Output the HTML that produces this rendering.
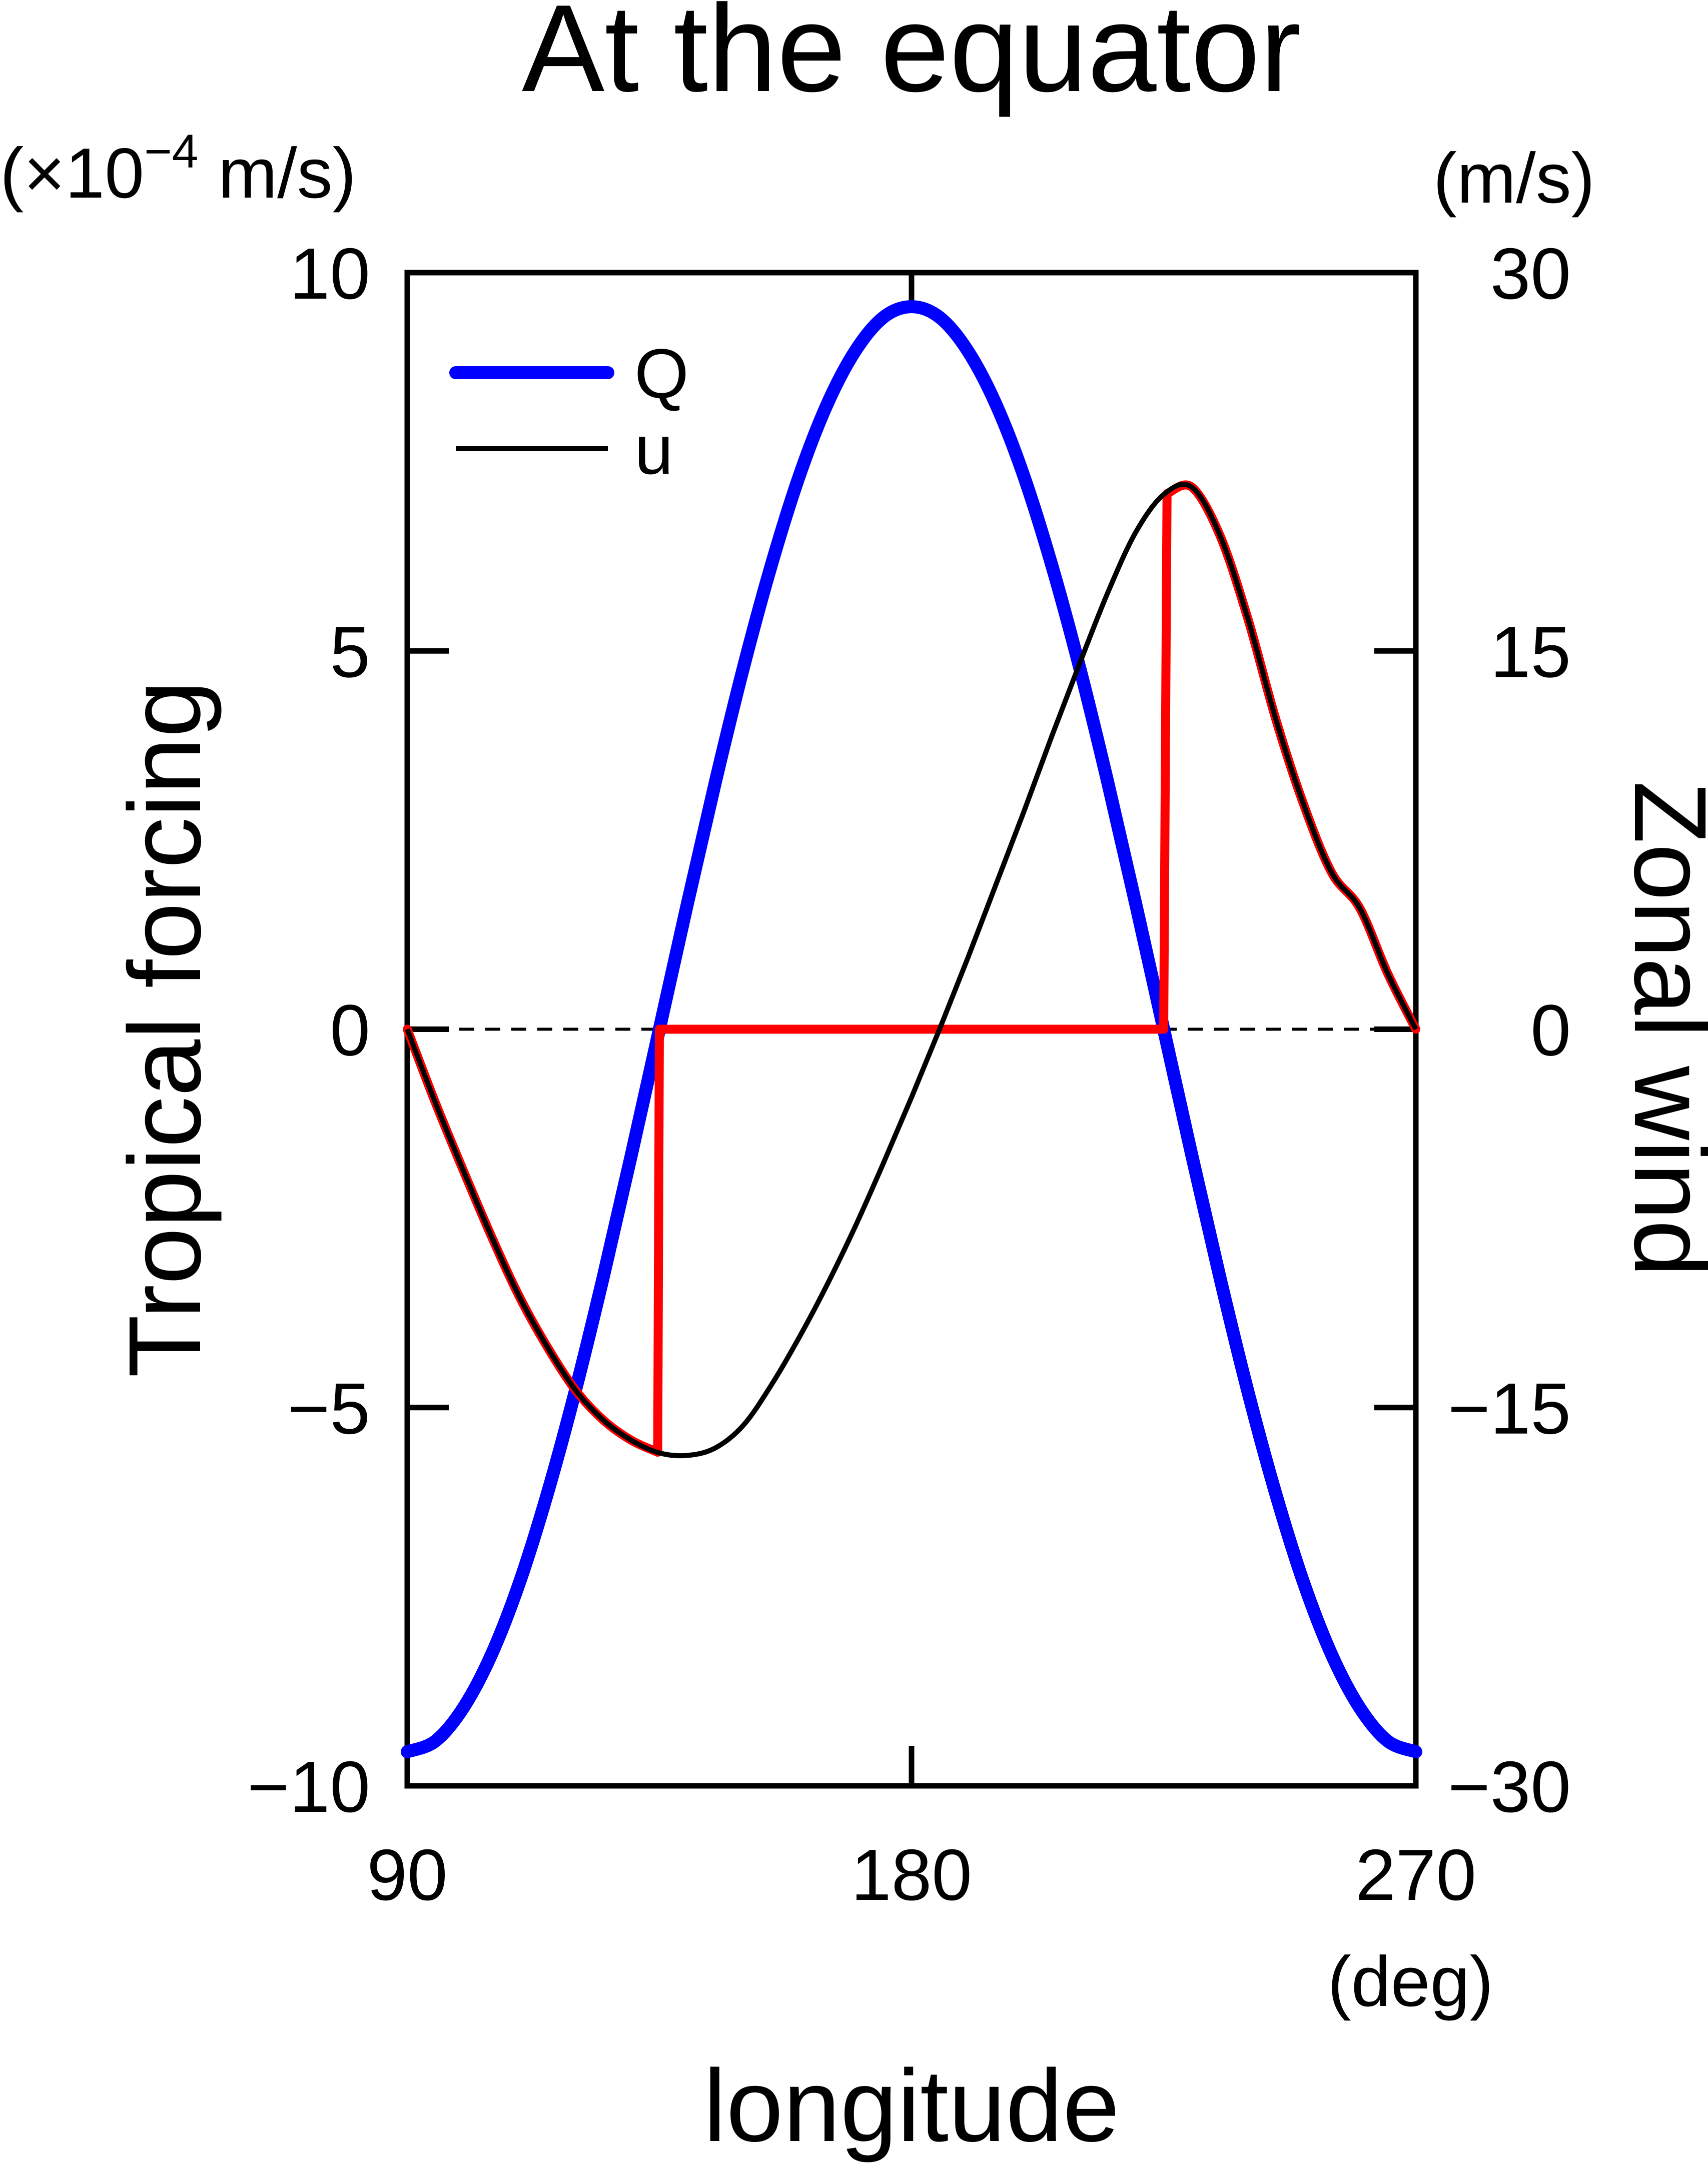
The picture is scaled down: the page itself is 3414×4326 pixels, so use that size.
<!DOCTYPE html>
<html><head><meta charset="utf-8">
<style>
html,body{margin:0;padding:0;background:#fff;}
svg{display:block;font-family:"Liberation Sans",Arial,sans-serif;}
</style></head>
<body>
<svg id="chart" width="3414" height="4326" viewBox="0 0 3414 4326" xmlns="http://www.w3.org/2000/svg">
<rect x="0" y="0" width="3414" height="4326" fill="#fff"/>
<text x="1822" y="182" font-size="248" text-anchor="middle" fill="#000">At the equator</text>
<text x="0" y="395" font-size="142" fill="#000">(×10<tspan font-size="95" dy="-60">−4</tspan><tspan dy="60"> m/s)</tspan></text>
<text x="3188" y="405" font-size="142" text-anchor="end" fill="#000">(m/s)</text>
<text x="2985" y="4010" font-size="142" text-anchor="end" fill="#000">(deg)</text>
<text transform="translate(400,2057) rotate(-90)" font-size="205" text-anchor="middle" fill="#000">Tropical forcing</text>
<text transform="translate(3268,2057) rotate(90)" font-size="205" text-anchor="middle" fill="#000">Zonal wind</text>
<text x="1822" y="4280" font-size="205" text-anchor="middle" fill="#000">longitude</text>
<g id="axes"></g>
<g id="series"></g>
<g>
<line x1="911" y1="745" x2="1215" y2="745" stroke="#0000ff" stroke-width="26" stroke-linecap="round"/>
<text x="1268" y="795" font-size="140" fill="#000">Q</text>
<line x1="911" y1="897" x2="1215" y2="897" stroke="#000" stroke-width="10"/>
<text x="1268" y="947" font-size="140" fill="#000">u</text>
</g>
</svg>
<script>
const lonQ = [90,95,100,105,110,115,120,125,130,135,140,145,150,155,160,165,170,175,180,185,190,195,200,205,210,215,220,225,230,235,240,245,250,255,260,265,270];
const qValues = [-9.55,-9.41,-8.97,-8.27,-7.32,-6.14,-4.78,-3.27,-1.66,0,1.66,3.27,4.78,6.14,7.32,8.27,8.97,9.41,9.55,9.41,8.97,8.27,7.32,6.14,4.78,3.27,1.66,0,-1.66,-3.27,-4.78,-6.14,-7.32,-8.27,-8.97,-9.41,-9.55];
const lonU = [90,95,100,105,110,115,120,125,130,135,140,145,150,155,160,165,170,175,180,185,190,195,200,205,210,215,220,225,230,235,240,245,250,255,260,265,270];
const uValues = [0,-2.9,-5.6,-8.2,-10.6,-12.6,-14.3,-15.5,-16.3,-16.8,-16.9,-16.6,-15.7,-14.1,-12.2,-10.1,-7.8,-5.3,-2.7,0,2.8,5.7,8.6,11.6,14.5,17.3,19.7,21.2,21.5,19.6,16.3,12.3,8.9,6.2,4.8,2.2,0];
const leftTicks = [10,5,0,-5,-10];
const leftTickLabels = ["10","5","0","−5","−10"];
const rightTicks = [30,15,0,-15,-30];
const rightTickLabels = ["30","15","0","−15","−30"];
const xTicks = [90,180,270];
const xTickLabels = ["90","180","270"];

const NS="http://www.w3.org/2000/svg";
const PL=814, PR=2830, PT=545, PB=3570;
const X=l=>PL+(l-90)/180*(PR-PL);
const YL=v=>PT+(10-v)/20*(PB-PT);
const YR=v=>PT+(30-v)/60*(PB-PT);
function mk(tag,attrs,parent){const e=document.createElementNS(NS,tag);for(const k in attrs)e.setAttribute(k,attrs[k]);parent.appendChild(e);return e;}
function smooth(pts){let d="M"+pts[0][0]+","+pts[0][1];
 for(let i=0;i<pts.length-1;i++){const p0=pts[Math.max(0,i-1)],p1=pts[i],p2=pts[i+1],p3=pts[Math.min(pts.length-1,i+2)];
 d+=" C"+(p1[0]+(p2[0]-p0[0])/6)+","+(p1[1]+(p2[1]-p0[1])/6)+" "+(p2[0]-(p3[0]-p1[0])/6)+","+(p2[1]-(p3[1]-p1[1])/6)+" "+p2[0]+","+p2[1];}
 return d;}
function interp(xs,ys,x){for(let i=0;i<xs.length-1;i++){if(x>=xs[i]&&x<=xs[i+1]){const t=(x-xs[i])/(xs[i+1]-xs[i]);return ys[i]+t*(ys[i+1]-ys[i]);}}return ys[ys.length-1];}

const axes=document.getElementById('axes');
const series=document.getElementById('series');
let z=mk('line',{x1:PL,y1:YL(0),x2:PR,y2:YL(0),stroke:'#000','stroke-width':6,'stroke-dasharray':'30 22'},axes);


leftTicks.forEach((v,i)=>{
 const t=mk('line',{x1:PL,y1:YL(v),x2:PL+83,y2:YL(v),stroke:'#000','stroke-width':11},axes);
 
 
 const tx=mk('text',{x:740,y:YL(v)+52,'font-size':145,'text-anchor':'end',fill:'#000'},axes);
 tx.textContent=leftTickLabels[i];
 
 
});
rightTicks.forEach((v,i)=>{
 const t=mk('line',{x1:PR-83,y1:YR(v),x2:PR,y2:YR(v),stroke:'#000','stroke-width':11},axes);
 
 
 const tx=mk('text',{x:3140,y:YR(v)+52,'font-size':145,'text-anchor':'end',fill:'#000'},axes);
 tx.textContent=rightTickLabels[i];
 
 
});
xTicks.forEach((v,i)=>{
 const a=mk('line',{x1:X(v),y1:PT,x2:X(v),y2:PT+80,stroke:'#000','stroke-width':11},axes);
 
 
 const b=mk('line',{x1:X(v),y1:PB-80,x2:X(v),y2:PB,stroke:'#000','stroke-width':11},axes);
 
 
 const tx=mk('text',{x:X(v),y:3798,'font-size':145,'text-anchor':'middle',fill:'#000'},axes);
 tx.textContent=xTickLabels[i];
 
 
});
const qPath=mk('path',{d:smooth(lonQ.map((l,i)=>[X(l),YL(qValues[i])])),fill:'none',stroke:'#0000ff','stroke-width':26,'stroke-linecap':'round'},series);


const zeros=[];
for(let i=0;i<lonQ.length-1;i++){const a=qValues[i],b=qValues[i+1];
 if(a<0&&b>=0) zeros.push(lonQ[i]+(-a)/(b-a)*(lonQ[i+1]-lonQ[i]));
 else if(a>=0&&b<0&&a!==0) zeros.push(lonQ[i]+a/(a-b)*(lonQ[i+1]-lonQ[i]));
 else if(a===0&&b<0) zeros.push(lonQ[i]);}
const z1=zeros[0], z2=zeros[zeros.length-1];
const seg1=lonU.filter(l=>l<z1).map(l=>[X(l),YR(interp(lonU,uValues,l))]);
seg1.push([X(z1-0.3),YR(interp(lonU,uValues,z1-0.3))]);
const seg3=[[X(z2+0.6),YR(interp(lonU,uValues,z2+0.6))]].concat(lonU.filter(l=>l>z2+1).map(l=>[X(l),YR(interp(lonU,uValues,l))]));
const redD=smooth(seg1)+" L"+X(z1)+","+YR(0)+" L"+X(z2)+","+YR(0)+" L"+seg3[0][0]+","+seg3[0][1]+" "+smooth(seg3).replace(/^M[^ ]+/,"");
const red=mk('path',{d:redD,fill:'none',stroke:'#ff0000','stroke-width':18,'stroke-linejoin':'round','stroke-linecap':'round'},series);


const uPath=mk('path',{d:smooth(lonU.map((l,i)=>[X(l),YR(uValues[i])])),fill:'none',stroke:'#000','stroke-width':10},series);


const fr=mk('rect',{x:PL,y:PT,width:PR-PL,height:PB-PT,fill:'none',stroke:'#000','stroke-width':11},axes);


</script>
</body></html>
